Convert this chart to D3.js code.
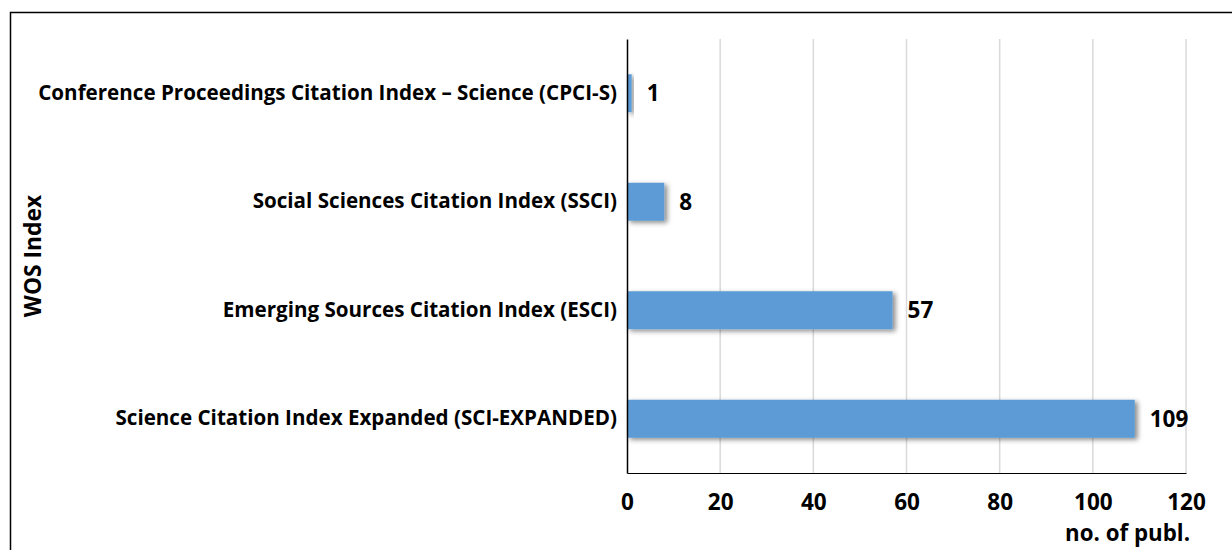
<!DOCTYPE html>
<html>
<head>
<meta charset="utf-8">
<script src="https://cdn.jsdelivr.net/npm/d3@7"></script>
<style>
  body { margin: 0; background: #fff; }
  text { font-family: "Open Sans", Lato, sans-serif; font-weight: bold; fill: #000; }
</style>
</head>
<body>
<script>
// Chart data
var categories = [
    "Conference Proceedings Citation Index \u2013 Science (CPCI-S)",
    "Social Sciences Citation Index (SSCI)",
    "Emerging Sources Citation Index (ESCI)",
    "Science Citation Index Expanded (SCI-EXPANDED)"
];
var counts = [1, 8, 57, 109];
var xTicks = [0, 20, 40, 60, 80, 100, 120];

var width = 1232, height = 550;
var margin = { top: 39, right: 46, bottom: 77, left: 627 };

var svg = d3.select("body").append("svg")
    .attr("width", width)
    .attr("height", height);

// drop shadow like the office chart
var defs = svg.append("defs");
defs.append("filter")
    .attr("id", "shadow")
    .attr("x", "-20%").attr("y", "-30%")
    .attr("width", "150%").attr("height", "170%")
    .append("feDropShadow")
    .attr("dx", 3).attr("dy", 2)
    .attr("stdDeviation", 2.5)
    .attr("flood-color", "#000")
    .attr("flood-opacity", 0.45);

// frame (only top and left are visible in the picture)
svg.append("path")
    .attr("d", "M10.5," + height + "V12.5H" + width)
    .attr("fill", "none")
    .attr("stroke", "#000")
    .attr("stroke-width", 1.5);

var x = d3.scaleLinear()
    .domain([0, 120])
    .range([margin.left, width - margin.right]);

var y = d3.scaleBand()
    .domain(categories)
    .range([margin.top, height - margin.bottom])
    .paddingInner(0.65)
    .paddingOuter(0.325);

// gridlines
svg.append("g")
    .selectAll("line")
    .data(xTicks.slice(1))
    .enter().append("line")
    .attr("x1", function(d) { return x(d); })
    .attr("x2", function(d) { return x(d); })
    .attr("y1", margin.top)
    .attr("y2", height - margin.bottom)
    .attr("stroke", "#d9d9d9")
    .attr("stroke-width", 1.5);

// bars
svg.append("g")
    .selectAll("rect")
    .data(counts)
    .enter().append("rect")
    .attr("x", x(0))
    .attr("y", function(d, i) { return y(categories[i]); })
    .attr("width", function(d) { return x(d) - x(0); })
    .attr("height", y.bandwidth())
    .attr("fill", "#5b9bd5")
    .attr("filter", "url(#shadow)");

// value labels
svg.append("g")
    .selectAll("text")
    .data(counts)
    .enter().append("text")
    .attr("x", function(d) { return x(d) + 15; })
    .attr("y", function(d, i) { return y(categories[i]) + y.bandwidth() / 2; })
    .attr("dy", "0.36em")
    .style("font-size", "22.5px")
    .text(function(d) { return d; });

// x axis
var xAxis = svg.append("g")
    .attr("transform", "translate(0," + (height - margin.bottom) + ")")
    .call(d3.axisBottom(x).tickValues(xTicks).tickSize(0).tickPadding(21));
xAxis.select(".domain").attr("stroke", "#000").attr("stroke-width", 1.2);
xAxis.selectAll("text").style("font-size", "22.5px").attr("font-family", null);

// y axis
var yAxis = svg.append("g")
    .attr("transform", "translate(" + margin.left + ",0)")
    .call(d3.axisLeft(y).tickSize(0).tickPadding(10));
yAxis.select(".domain").attr("stroke", "#000").attr("stroke-width", 1.5);
yAxis.selectAll("text").style("font-size", "20.6px").attr("font-family", null);

// axis titles
svg.append("text")
    .attr("x", x(120) + 4)
    .attr("y", 541)
    .attr("text-anchor", "end")
    .style("font-size", "22.3px")
    .text("no. of publ.");

svg.append("text")
    .attr("transform", "translate(41," + ((margin.top + height - margin.bottom) / 2) + ") rotate(-90)")
    .attr("text-anchor", "middle")
    .style("font-size", "22.8px")
    .text("WOS Index");
</script>
</body>
</html>
